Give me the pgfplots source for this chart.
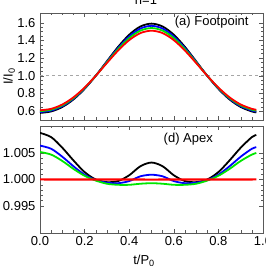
\documentclass[border=0pt]{standalone}
\usepackage{pgfplots}
\pgfplotsset{compat=1.18}
\usepackage{fontspec}
\setmainfont{Liberation Sans}
\definecolor{cgreen}{RGB}{0,230,0}
\pgfplotsset{
  myax/.style={
    scale only axis, width=223bp, height=107bp,
    xmin=0, xmax=1,
    tick align=inside, tick pos=both,
    axis line style={black!65, line width=0.5bp},
    tick style={black!65, line width=0.4bp},
    major tick length=4bp, minor tick length=2.5bp,
    xtick={0,0.2,0.4,0.6,0.8,1.0}, minor x tick num=3,
    ticklabel style={font=\fontsize{13bp}{15bp}\selectfont},
    /pgf/number format/assume math mode=true,
    x tick label style={/pgf/number format/.cd, fixed, fixed zerofill, precision=1},
    yticklabel style={xshift=-1bp},
  },
  cv/.style={line width=1.8bp, smooth, no markers, draw=#1},
}
\begin{document}
\begin{tikzpicture}
\useasboundingbox (0bp,0bp) rectangle (266bp,266bp);
\clip (0bp,0bp) rectangle (266bp,266bp);
\coordinate (TA) at (40bp,146bp);
\coordinate (BA) at (40bp,33bp);
\begin{axis}[myax, at={(TA)}, anchor=south west,
  ymin=0.5, ymax=1.71, ytick={0.6,0.8,1.0,1.2,1.4,1.6}, minor y tick num=3,
  y tick label style={/pgf/number format/.cd, fixed, fixed zerofill, precision=1},
  xticklabels={}]
\addplot[gray!70, dashed, line width=0.6bp, no markers] coordinates {(0,1) (1,1)};
\addplot[cv=black] coordinates {(0,0.580) (0.05,0.5966) (0.1,0.6471) (0.15,0.7325) (0.2,0.8521) (0.25,1.0) (0.3,1.1642) (0.35,1.3262) (0.4,1.4642) (0.45,1.5572) (0.5,1.590) (0.55,1.5572) (0.6,1.4642) (0.65,1.3262) (0.7,1.1642) (0.75,1.0) (0.8,0.8521) (0.85,0.7325) (0.9,0.6471) (0.95,0.5966) (0.97,0.5860)};
\addplot[cv=blue] coordinates {(0,0.590) (0.05,0.6065) (0.1,0.6563) (0.15,0.7402) (0.2,0.8568) (0.25,1.0) (0.3,1.1581) (0.35,1.3133) (0.4,1.4451) (0.45,1.5337) (0.5,1.565) (0.55,1.5337) (0.6,1.4451) (0.65,1.3133) (0.7,1.1581) (0.75,1.0) (0.8,0.8568) (0.85,0.7402) (0.9,0.6563) (0.95,0.6065) (0.97,0.5959)};
\addplot[cv=cgreen] coordinates {(0,0.600) (0.05,0.6163) (0.1,0.6656) (0.15,0.7479) (0.2,0.8614) (0.25,1.0) (0.3,1.1519) (0.35,1.3004) (0.4,1.4261) (0.45,1.5103) (0.5,1.540) (0.55,1.5103) (0.6,1.4261) (0.65,1.3004) (0.7,1.1519) (0.75,1.0) (0.8,0.8614) (0.85,0.7479) (0.9,0.6656) (0.95,0.6163) (0.97,0.6059)};
\addplot[cv=red] coordinates {(0,0.610) (0.05,0.6263) (0.1,0.6752) (0.15,0.7562) (0.2,0.8667) (0.25,1.0) (0.3,1.1448) (0.35,1.2852) (0.4,1.4033) (0.45,1.4826) (0.5,1.510) (0.55,1.4826) (0.6,1.4033) (0.65,1.2852) (0.7,1.1448) (0.75,1.0) (0.8,0.8667) (0.85,0.7562) (0.9,0.6752) (0.95,0.6263) (0.97,0.6159)};
\node[font=\fontsize{13bp}{15bp}\selectfont] at (axis cs:0.77,1.605) {(a) Footpoint};
\end{axis}
\begin{axis}[myax, at={(BA)}, anchor=south west,
  ymin=0.9899, ymax=1.0101, ytick={0.995,1.000,1.005}, minor y tick num=4,
  y tick label style={/pgf/number format/.cd, fixed, fixed zerofill, precision=3}]
\addplot[cv=black] coordinates {(0,1.0088) (0.05,1.0080) (0.1,1.0060) (0.15,1.0036) (0.2,1.0014) (0.25,1.0000) (0.3,0.9995) (0.35,0.9997) (0.4,1.0008) (0.45,1.0025) (0.5,1.0032) (0.55,1.0025) (0.6,1.0008) (0.65,0.9997) (0.7,0.9995) (0.75,1.0000) (0.8,1.0014) (0.85,1.0036) (0.9,1.0060) (0.95,1.0080) (0.97,1.0084)};
\addplot[cv=blue] coordinates {(0,1.0064) (0.05,1.0058) (0.1,1.0043) (0.15,1.0025) (0.2,1.0009) (0.25,0.9999) (0.3,0.9994) (0.35,0.9993) (0.4,0.9997) (0.45,1.0006) (0.5,1.0009) (0.55,1.0006) (0.6,0.9997) (0.65,0.9993) (0.7,0.9994) (0.75,0.9999) (0.8,1.0009) (0.85,1.0025) (0.9,1.0043) (0.95,1.0058) (0.97,1.0061)};
\addplot[cv=cgreen] coordinates {(0,1.0052) (0.05,1.0047) (0.1,1.0035) (0.15,1.0020) (0.2,1.0007) (0.25,0.9998) (0.3,0.9992) (0.35,0.9990) (0.4,0.9990) (0.45,0.9992) (0.5,0.9993) (0.55,0.9992) (0.6,0.9990) (0.65,0.9990) (0.7,0.9992) (0.75,0.9998) (0.8,1.0007) (0.85,1.0020) (0.9,1.0035) (0.95,1.0047) (0.97,1.0050)};
\addplot[cv=red, line width=2.1bp] coordinates {(0,1.00001) (0.25,1.00000) (0.5,0.99999) (0.75,1.00000) (0.97,1.00001)};
\node[font=\fontsize{13bp}{15bp}\selectfont] at (axis cs:0.665,1.0076) {(d) Apex};
\end{axis}
\node[font=\fontsize{13bp}{15bp}\selectfont, anchor=base] at (146bp,261bp) {n=1};
\node[font=\fontsize{13bp}{15bp}\selectfont, anchor=base] at (144bp,2bp) {t/P\textsubscript{0}};
\node[font=\fontsize{13bp}{15bp}\selectfont, rotate=90] at (9bp,189.5bp) {I/I\textsubscript{0}};
\end{tikzpicture}
\end{document}
